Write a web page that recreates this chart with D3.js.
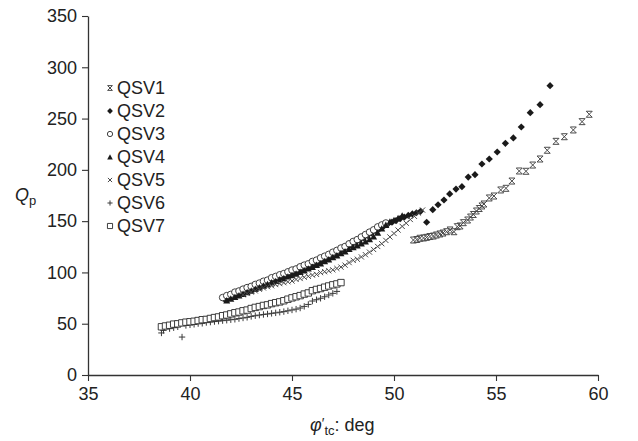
<!DOCTYPE html>
<html>
<head>
<meta charset="utf-8">
<script src="https://cdn.jsdelivr.net/npm/d3@7"></script>
<style>
  html, body { margin: 0; padding: 0; background: #fff; }
  svg { display: block; font-family: "Liberation Sans", Arial, sans-serif; }
</style>
</head>
<body>
<svg id="chart" width="638" height="441"></svg>
<script>
// Axis ticks
const xTicks = [35, 40, 45, 50, 55, 60];
const yTicks = [0, 50, 100, 150, 200, 250, 300, 350];

// Series names in legend order
const seriesNames = ["QSV1", "QSV2", "QSV3", "QSV4", "QSV5", "QSV6", "QSV7"];

// QSV1: friction angle (deg) and Qp
const qsv1X = [50.95,51.12,51.27,51.45,51.60,51.76,51.93,52.08,52.25,52.40,52.58,52.75,52.94,53.10,53.24,53.40,53.61,53.75,53.89,54.04,54.18,54.31,54.41,54.67,54.90,55.23,55.49,55.78,56.14,56.47,56.80,57.16,57.51,57.94,58.35,58.79,59.22,59.57];
const qsv1Q = [131.6,132.1,133.3,133.6,134.2,135.0,135.5,136.5,137.5,138.4,139.7,141.4,139.7,144.6,145.3,148.5,151.1,154.0,156.5,159.9,162.3,164.8,166.7,172.6,174.5,180.4,182.0,189.1,198.9,198.6,204.7,210.6,219.1,227.8,232.3,238.9,247.0,254.2];

// QSV2
const qsv2X = [41.7,41.9,42.1,42.3,42.5,42.7,42.9,43.1,43.3,43.5,43.7,43.9,44.1,44.3,44.5,44.7,44.9,45.1,45.3,45.5,45.7,45.9,46.1,46.3,46.5,46.7,46.9,47.1,47.3,47.5,47.7,47.9,48.1,48.3,48.5,48.7,48.9,49.1,49.3,49.5,49.7,49.9,50.1,50.3,50.5,50.7,50.9,51.1,51.3,
  51.60,51.90,52.16,52.45,52.73,53.04,53.33,53.64,53.97,54.31,54.67,55.06,55.46,55.85,56.24,56.68,57.16,57.65];
const qsv2Q = [73.8,75.1,76.9,78.2,80.1,81.4,83.3,84.6,86.5,87.9,89.7,91.0,92.8,94.0,95.6,97.1,98.4,99.9,101.6,103.1,104.8,106.5,108.4,110.0,112.1,113.8,115.9,118.0,119.9,122.1,124.3,126.6,129.2,131.3,133.8,136.2,138.5,140.9,142.8,145.1,147.2,149.0,150.6,152.4,153.9,155.6,157.0,158.2,159.6,
  148.9,161.2,166.0,170.6,176.5,181.3,183.6,193.0,195.3,205.7,210.6,217.4,225.9,231.1,241.8,255.7,263.5,282.1];

// QSV3
const qsv3X = [41.6,41.8,42.0,42.2,42.4,42.6,42.8,43.0,43.2,43.4,43.6,43.8,44.0,44.2,44.4,44.6,44.8,45.0,45.2,45.4,45.6,45.8,46.0,46.2,46.4,46.6,46.8,47.0,47.2,47.4,47.6,47.8,48.0,48.2,48.4,48.6,48.8,49.0,49.2,49.4,49.6];
const qsv3Q = [75.5,77.4,78.6,80.8,81.9,83.7,85.2,86.4,88.3,89.6,91.4,92.5,94.8,96.1,97.7,98.9,100.6,102.3,103.4,105.5,107.1,108.4,110.7,112.0,114.2,115.8,117.6,119.7,121.5,123.8,125.3,127.9,130.2,132.0,134.6,136.9,139.3,141.5,144.4,146.3,148.2];

// QSV4
const qsv4X = [41.8,42.0,42.2,42.4,42.6,42.8,43.0,43.2,43.4,43.6,43.8,44.0,44.2,44.4,44.6,44.8,45.0,45.2,45.4,45.6,45.8,46.0,46.2,46.4,46.6,46.8,47.0,47.2,47.4,47.6,47.8,48.0,48.2,48.4,48.6,48.8,49.0,49.2,49.4,49.6,49.8,50.0,50.2,50.4];
const qsv4Q = [72.6,74.3,75.9,77.6,79.0,80.7,82.1,83.9,85.2,86.9,88.4,90.1,91.5,93.0,94.3,95.9,97.2,98.6,100.4,101.9,103.7,105.3,107.2,108.8,110.9,112.7,114.8,116.5,118.6,120.4,122.7,124.5,126.3,128.2,130.1,132.4,134.9,138.6,142.7,146.3,149.4,150.8,152.9,155.2];

// QSV5
const qsv5X = [42.6,42.8,43.0,43.2,43.4,43.6,43.8,44.0,44.2,44.4,44.6,44.8,45.0,45.2,45.4,45.6,45.8,46.0,46.2,46.4,46.6,46.8,47.0,47.2,47.4,47.6,47.8,48.0,48.2,48.4,48.6,48.8,49.0,49.2,49.4,49.6,49.8,50.0,50.2,50.4,50.6,50.8,51.0,51.2,51.4];
const qsv5Q = [78.2,79.5,80.9,82.0,83.6,84.9,86.1,87.0,88.2,89.1,90.0,90.9,91.6,93.2,94.1,95.3,96.2,97.4,98.1,99.8,100.7,101.6,102.5,103.9,105.2,107.1,109.6,111.8,112.9,115.1,117.3,119.8,122.4,125.3,128.0,131.2,134.6,138.0,141.3,144.9,148.0,151.6,154.7,157.9,160.8];

// QSV6
const qsv6X = [38.6,38.7,39.0,39.2,39.4,39.61,39.8,40.0,40.2,40.4,40.6,40.8,41.0,41.2,41.4,41.6,41.8,42.0,42.2,42.4,42.6,42.8,43.0,43.2,43.4,43.6,43.8,44.0,44.2,44.4,44.6,44.8,45.0,45.2,45.4,45.6,45.8,46.0,46.2,46.4,46.6,46.8,47.0,47.2];
const qsv6Q = [41.0,43.5,45.2,46.1,47.0,37.0,48.3,48.9,49.4,50.1,50.4,51.2,51.6,52.1,52.5,53.0,53.4,53.9,54.3,55.0,55.6,56.2,57.1,57.8,58.4,59.0,59.5,60.1,60.6,61.2,61.8,62.6,63.4,64.2,65.3,66.9,68.8,72.1,73.4,74.8,76.3,78.0,79.6,81.5];

// QSV7
const qsv7X = [38.6,38.8,39.0,39.2,39.4,39.6,39.8,40.0,40.2,40.4,40.6,40.8,41.0,41.2,41.4,41.6,41.8,42.0,42.2,42.4,42.6,42.8,43.0,43.2,43.4,43.6,43.8,44.0,44.2,44.4,44.6,44.8,45.0,45.2,45.4,45.6,45.8,46.0,46.2,46.4,46.6,46.8,47.0,47.2,47.4];
const qsv7Q = [47.0,47.8,48.5,49.6,49.9,50.8,51.5,51.9,52.4,53.1,53.9,54.2,55.1,56.0,56.6,57.8,58.5,59.6,60.7,61.4,62.6,63.3,64.8,65.9,66.7,67.8,68.4,69.6,70.5,71.3,72.4,73.9,75.2,76.3,77.4,78.9,80.0,82.2,83.4,84.3,85.6,86.8,87.9,88.8,90.1];

const seriesX = [qsv1X, qsv2X, qsv3X, qsv4X, qsv5X, qsv6X, qsv7X];
const seriesQ = [qsv1Q, qsv2Q, qsv3Q, qsv4Q, qsv5Q, qsv6Q, qsv7Q];

// Marker shapes, scaled by k
const markers = [
  // hourglass: x with caps
  { path: k => { const s = 3 * k; return `M${-s},${-s}L${s},${s}M${s},${-s}L${-s},${s}M${-s},${-s}H${s}M${-s},${s}H${s}`; },
    fill: "none", stroke: "#4a4a4a", sw: 1 },
  // filled diamond
  { path: k => { const s = 3.6 * k; return `M0,${-s}L${s},0L0,${s}L${-s},0Z`; },
    fill: "#1a1a1a", stroke: "none", sw: 0 },
  // open circle
  { path: k => { const r = 3.3 * k; return `M${r},0A${r},${r} 0 1,1 ${-r},0A${r},${r} 0 1,1 ${r},0Z`; },
    fill: "#fff", stroke: "#2a2a2a", sw: 0.9 },
  // filled triangle
  { path: k => { const s = 3.5 * k; return `M0,${-s}L${s},${s * 0.85}L${-s},${s * 0.85}Z`; },
    fill: "#1a1a1a", stroke: "none", sw: 0 },
  // x
  { path: k => { const s = 2.6 * k; return `M${-s},${-s}L${s},${s}M${s},${-s}L${-s},${s}`; },
    fill: "none", stroke: "#4a4a4a", sw: 1 },
  // plus
  { path: k => { const s = 3.2 * k; return `M${-s},0H${s}M0,${-s}V${s}`; },
    fill: "none", stroke: "#3a3a3a", sw: 1 },
  // open square
  { path: k => { const s = 3.2 * k; return `M${-s},${-s}H${s}V${s}H${-s}Z`; },
    fill: "#fff", stroke: "#2a2a2a", sw: 0.9 }
];

const svg = d3.select("#chart");
const x = d3.scaleLinear().domain([35, 60]).range([88, 598]);
const y = d3.scaleLinear().domain([0, 350]).range([375, 16]);

// Axes
const axisColor = "#333";
const gy = svg.append("g").attr("transform", "translate(88,0)")
  .call(d3.axisLeft(y).tickValues(yTicks).tickSize(6).tickSizeOuter(0).tickPadding(5));
const gx = svg.append("g").attr("transform", "translate(0,375)")
  .call(d3.axisBottom(x).tickValues(xTicks).tickSize(6).tickSizeOuter(0).tickPadding(6));
[gx, gy].forEach(g => {
  g.select(".domain").attr("stroke", axisColor).attr("stroke-width", 1.3);
  g.selectAll(".tick line").attr("stroke", axisColor).attr("stroke-width", 1.1);
  g.selectAll(".tick text").attr("fill", "#222").attr("font-size", 18)
    .attr("font-family", "'Liberation Sans', Arial, sans-serif");
});

// Points
seriesNames.forEach((name, i) => {
  const m = markers[i];
  const pts = seriesX[i].map((v, j) => [v, seriesQ[i][j]]);
  svg.append("g").attr("class", "series " + name)
    .selectAll("path").data(pts).join("path")
    .attr("transform", d => `translate(${x(d[0])},${y(d[1])})`)
    .attr("d", m.path(1))
    .attr("fill", m.fill).attr("stroke", m.stroke).attr("stroke-width", m.sw);
});

// Legend
const legend = svg.append("g").attr("class", "legend");
seriesNames.forEach((name, i) => {
  const m = markers[i];
  const base = 94 + i * 23;
  legend.append("path")
    .attr("transform", `translate(110,${base - 6})`)
    .attr("d", m.path(0.8))
    .attr("fill", m.fill).attr("stroke", m.stroke).attr("stroke-width", m.sw);
  legend.append("text").attr("x", 117).attr("y", base)
    .attr("font-size", 18).attr("fill", "#222").text(name);
});

// Axis titles
const yt = svg.append("text").attr("x", 15).attr("y", 201).attr("font-size", 18).attr("fill", "#222");
yt.append("tspan").attr("font-style", "italic").text("Q");
yt.append("tspan").attr("font-size", 13).attr("dy", 4).text("p");

const xt = svg.append("text").attr("x", 310).attr("y", 431).attr("font-size", 18).attr("fill", "#222");
xt.append("tspan").attr("font-style", "italic").text("φ");
xt.append("tspan").attr("font-size", 14).attr("dy", -3).text("′");
xt.append("tspan").attr("font-size", 13).attr("dy", 7).text("tc");
xt.append("tspan").attr("dy", -4).text(": deg");
</script>
</body>
</html>
